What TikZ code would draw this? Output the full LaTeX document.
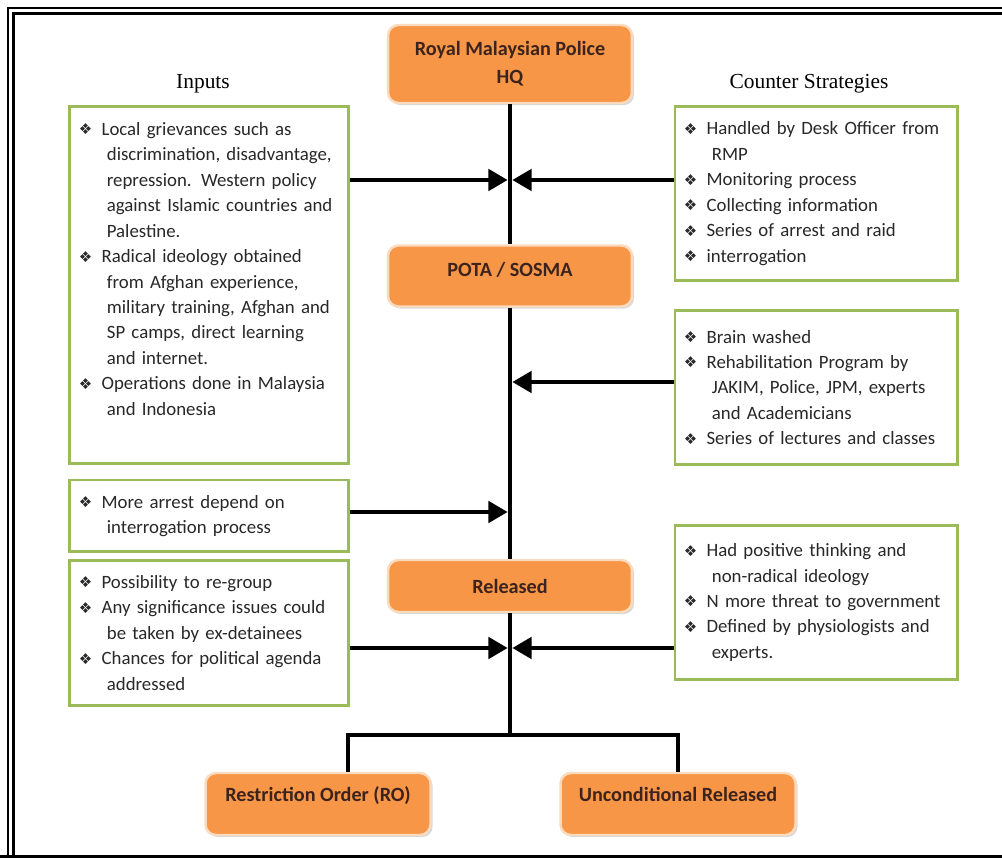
\documentclass[tikz,border=0pt]{standalone}
\usepackage{fontspec}
\setmainfont{Carlito}
\newfontfamily\headfont{Liberation Serif}
\newfontfamily\symfont{DejaVu Sans}
\usetikzlibrary{arrows.meta,positioning,shadows,calc}
\definecolor{tangerine}{RGB}{247,150,70}
\definecolor{moss}{RGB}{155,187,89}
\definecolor{ink}{RGB}{40,40,40}
\definecolor{bark}{RGB}{60,35,30}
\newcommand\itm{\makebox[13pt][l]{\symfont\fontsize{8.5}{8}\selectfont\raisebox{0.3pt}{❖}}}
\newcommand\cnt{\hspace*{16pt}}
\tikzset{
  >={Triangle[length=11pt,width=12pt]},
  stage/.style={fill=tangerine,draw=tangerine!35!white,line width=1.4pt,rounded corners=6pt,
    text=bark,font=\fontsize{11.5}{16}\selectfont\bfseries,align=center,minimum width=4.88cm,
    drop shadow={opacity=0.3,shadow xshift=1.2pt,shadow yshift=-1.2pt}},
  note/.style={draw=moss,line width=1.7pt,fill=white,text=ink,align=left,
    font=\fontsize{10.7}{14.5}\selectfont,inner xsep=5pt},
  head/.style={font=\headfont\fontsize{12.2}{14}\selectfont,text=black},
  trunk/.style={line width=2.6pt,draw=black},
  feed/.style={->,line width=2.6pt,draw=black,shorten >=1.3pt},
}
\begin{document}
\begin{tikzpicture}[x=0.02cm,y=-0.02cm]
  \useasboundingbox[fill=white] (0,0) rectangle (1002,858);
  % frame
  \draw[line width=0.9pt] (1002,8) -- (8,8) -- (8,858);
  \draw[line width=2.2pt] (1002,13.5) -- (13.5,13.5) -- (13.5,858);
  \draw[line width=1.2pt] (0,856.5) -- (1002,856.5);

  % main stages
  \node[stage,minimum height=1.56cm] (hq) at (510,64) {Royal Malaysian Police\\HQ};
  \node[stage,minimum height=1.22cm,text height=8pt,text depth=7pt] (pota) at (510,276) {POTA / SOSMA};
  \node[stage,minimum height=1.04cm] (rel) at (510,586) {Released};
  \node[stage,minimum width=4.5cm,minimum height=1.24cm,text height=8pt,text depth=11pt] (ro) at (318,804) {Restriction Order (RO)};
  \node[stage,minimum width=4.7cm,minimum height=1.24cm,text height=8pt,text depth=11pt] (uc) at (678,804) {Unconditional Released};

  \node[head] (hin) at (203,84) {Inputs};
  \node[head] (hcs) at (809,84) {Counter Strategies};

  % input boxes
  \node[note,text width=5.21cm,minimum height=7.16cm,text depth=178pt] (inp) at (209,285) {%
    \itm Local grievances such as\\
    \cnt discrimination, disadvantage,\\
    \cnt repression. Western policy\\
    \cnt against Islamic countries and\\
    \cnt Palestine.\\
    \itm Radical ideology obtained\\
    \cnt from Afghan experience,\\
    \cnt military training, Afghan and\\
    \cnt SP camps, direct learning\\
    \cnt and internet.\\
    \itm Operations done in Malaysia\\
    \cnt and Indonesia};
  \node[note,text width=5.21cm,minimum height=1.44cm] (inp2) at (209,516) {%
    \itm More arrest depend on\\
    \cnt interrogation process};
  \node[note,text width=5.21cm,minimum height=2.92cm] (inp3) at (209,633) {%
    \itm Possibility to re-group\\
    \itm Any significance issues could\\
    \cnt be taken by ex-detainees\\
    \itm Chances for political agenda\\
    \cnt addressed};

  % counter strategy boxes
  \node[note,text width=5.29cm,minimum height=3.5cm] (cs1) at (816,193.5) {%
    \itm Handled by Desk Officer from\\
    \cnt RMP\\
    \itm Monitoring process\\
    \itm Collecting information\\
    \itm Series of arrest and raid\\
    \itm interrogation};
  \node[note,text width=5.29cm,minimum height=3.1cm] (cs2) at (816,387.5) {%
    \itm Brain washed\\
    \itm Rehabilitation Program by\\
    \cnt JAKIM, Police, JPM, experts\\
    \cnt and Academicians\\
    \itm Series of lectures and classes};
  \node[note,text width=5.29cm,minimum height=3.1cm] (cs3) at (816,602.5) {%
    \itm Had positive thinking and\\
    \cnt non-radical ideology\\
    \itm N more threat to government\\
    \itm Defined by physiologists and\\
    \cnt experts.};

  % trunk
  \coordinate (fork) at (510,735);
  \coordinate (forkl) at (348,735);
  \coordinate (forkr) at (678,735);
  \draw[trunk] (hq.south) -- (pota.north);
  \draw[trunk] (pota.south) -- (rel.north);
  \draw[trunk] (rel.south) -- (fork);
  \draw[trunk] (ro.north -| forkl) -- (forkl) -- (forkr) -- (uc.north);

  % feeds into the trunk
  \coordinate (j1) at (510,180);
  \coordinate (j2) at (510,382);
  \coordinate (j3) at (510,512);
  \coordinate (j4) at (510,648);
  \draw[feed] (inp.east |- j1) -- (j1);
  \draw[feed] (cs1.west |- j1) -- (j1);
  \draw[feed] (cs2.west |- j2) -- (j2);
  \draw[feed] (inp2.east |- j3) -- (j3);
  \draw[feed] (inp3.east |- j4) -- (j4);
  \draw[feed] (cs3.west |- j4) -- (j4);
\end{tikzpicture}
\end{document}
